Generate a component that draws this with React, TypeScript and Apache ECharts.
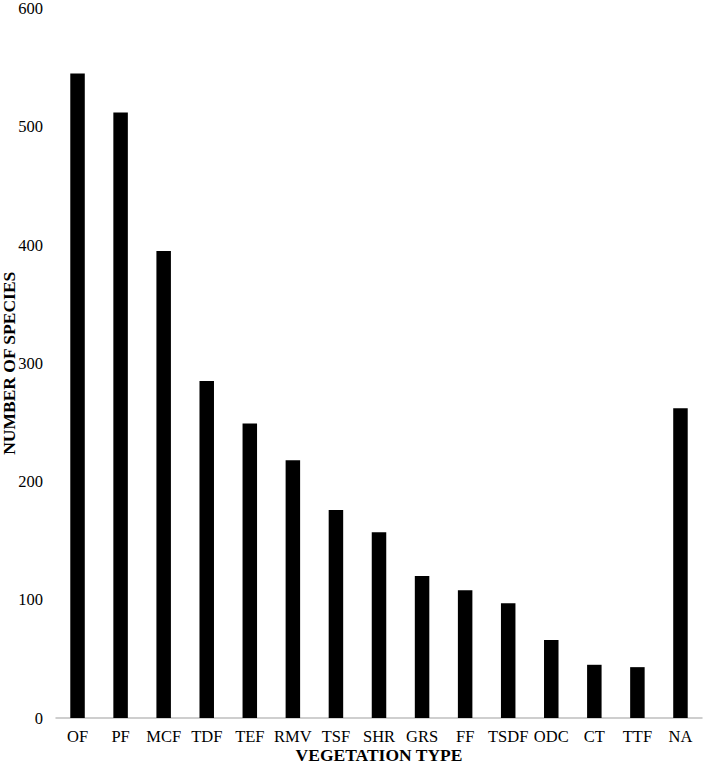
import React, { useEffect, useRef } from "react";
import * as echarts from "echarts";

const categories = ["OF", "PF", "MCF", "TDF", "TEF", "RMV", "TSF", "SHR", "GRS", "FF", "TSDF", "ODC", "CT", "TTF", "NA"];
const speciesCounts = [545, 512, 395, 285, 249, 218, 176, 157, 120, 108, 97, 66, 45, 43, 262];
const yTicks = { min: 0, max: 600, interval: 100 };

export default function App() {
  const ref = useRef<HTMLDivElement>(null);
  useEffect(() => {
    if (!ref.current) return;
    const chart = echarts.init(ref.current, undefined, { renderer: "svg" });
    const font = "'Liberation Serif', 'Times New Roman', serif";
    chart.setOption({
      animation: false,
      backgroundColor: "#ffffff",
      grid: { left: 56, right: 7, top: 8.5, bottom: 45, containLabel: false, outerBoundsMode: "none" },
      xAxis: {
        type: "category",
        data: categories,
        name: "VEGETATION TYPE",
        nameLocation: "middle",
        nameGap: 29,
        nameMoveOverlap: false,
        nameTextStyle: { fontFamily: font, fontWeight: "bold", fontSize: 17.5, lineHeight: 15, color: "#000" },
        axisLine: { lineStyle: { color: "#bfbfbf", width: 1.5 } },
        axisTick: { show: false },
        axisLabel: { fontFamily: font, fontSize: 16.5, color: "#000", margin: 10, interval: 0 },
      },
      yAxis: {
        type: "value",
        min: yTicks.min,
        max: yTicks.max,
        interval: yTicks.interval,
        name: "NUMBER OF SPECIES",
        nameLocation: "middle",
        nameGap: 40,
        nameRotate: 90,
        nameMoveOverlap: false,
        nameTextStyle: { fontFamily: font, fontWeight: "bold", fontSize: 17.5, lineHeight: 15, color: "#000" },
        axisLine: { show: false },
        axisTick: { show: false },
        splitLine: { show: false },
        axisLabel: { fontFamily: font, fontSize: 16.5, lineHeight: 12, color: "#000", margin: 13 },
      },
      series: [
        {
          type: "bar",
          data: speciesCounts,
          barWidth: 14.5,
          itemStyle: { color: "#000000" },
        },
      ],
    });
    return () => chart.dispose();
  }, []);
  return <div ref={ref} style={{ position: "absolute", left: 0, top: 0, width: 709, height: 763 }} />;
}
